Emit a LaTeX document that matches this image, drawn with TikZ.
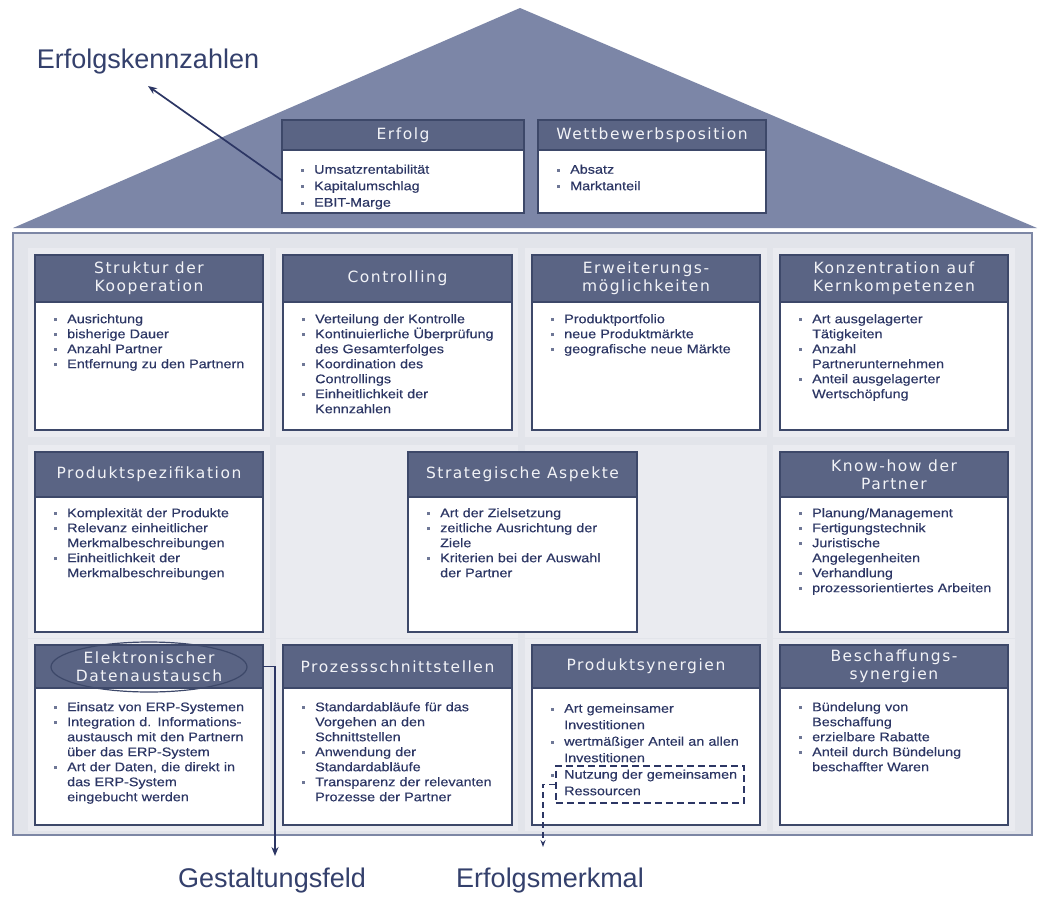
\documentclass[tikz,border=0pt]{standalone}
\usepackage{fontspec}
\setmainfont{Liberation Sans}
\newfontfamily\itemfont[FakeStretch=1.15,FakeBold=0.4]{Liberation Sans}
\newfontfamily\headfont[LetterSpace=10]{DejaVu Sans}
\newfontfamily\labelfont{Liberation Sans}
\usetikzlibrary{shapes.geometric,arrows.meta}
\definecolor{roof}{HTML}{7C86A7}
\definecolor{hdr}{HTML}{5A6484}
\definecolor{frame}{HTML}{3D4869}
\definecolor{txt}{HTML}{2C3664}
\definecolor{bul}{HTML}{6E7796}
\definecolor{bodybg}{HTML}{E2E4EA}
\definecolor{cellbg}{HTML}{EAEBF0}
\definecolor{hdrtxt}{HTML}{F2F3F7}
\definecolor{bodyframe}{HTML}{7D87A5}
\definecolor{lbl}{HTML}{34406C}
\newcommand\itm[1]{\par\hangindent=13pt\hangafter=1\noindent\makebox[13pt][l]{\textcolor{bul}{\rule[2pt]{3pt}{3pt}}}#1\par}
\tikzset{
  panelbox/.style={anchor=north west, draw=frame, line width=1.6pt, fill=white, inner sep=0pt, outer sep=0pt},
  headbox/.style={anchor=north west, draw=frame, line width=1.6pt, fill=hdr, text=hdrtxt,
    font=\headfont\fontsize{15.5}{18}\selectfont, align=center, inner sep=0pt, outer sep=0pt},
  itemtext/.style={anchor=north west, inner sep=0pt, text width=232pt, align=left, text=txt,
    font=\itemfont\fontsize{12.5}{15}\selectfont},
  biglabel/.style={font=\labelfont\fontsize{27}{30}\selectfont, text=lbl, inner sep=2pt},
  arrowline/.style={draw=txt, line width=1.7pt, -{Stealth[length=9pt,width=7pt]}},
  dasharrow/.style={draw=txt, line width=1.5pt, dash pattern=on 6pt off 4pt, -{Stealth[length=7pt,width=5pt]}},
  dashbox/.style={anchor=north west, draw=txt, line width=1.5pt, dash pattern=on 7pt off 4pt, inner sep=0pt},
  oval/.style={ellipse, draw=frame, line width=1.2pt, inner sep=0pt}
}
% #1 name, #2 x, #3 y, #4 width, #5 header height, #6 total height, #7 header, #8 items, #9 text yshift
\newcommand\panel[9]{%
  \node[panelbox, minimum width=#4pt, minimum height=#6pt] (#1) at (#2,#3) {};
  \node[headbox, minimum width=#4pt, minimum height=#5pt] (#1-h) at (#2,#3) {#7};
  \node[itemtext] (#1-t) at ([xshift=19pt,yshift=-#9pt]#1-h.south west) {#8};
}
\begin{document}
\begin{tikzpicture}[x=1pt,y=-1pt]
\fill[white] (0,0) rectangle (1039,897);
\useasboundingbox (0,0) rectangle (1039,897);
% roof
\fill[roof] (13,228) -- (520,8) -- (1037,228) -- cycle;
% house body
\draw[bodyframe, line width=2pt, fill=bodybg] (13,233) rectangle (1032,835);
% light cells
\foreach \cx in {28,276,525,773}{
  \foreach \cy/\ch in {248/189,445/193,639/192}{
    \fill[cellbg] (\cx,\cy) rectangle ++(242,\ch);
  }
}
% roof panels
\panel{erfolg}{282}{120}{242}{30}{93}{Erfolg}{\fontsize{12.5}{16.5}\selectfont
  \itm{Umsatzrentabilität}\itm{Kapitalumschlag}\itm{EBIT-Marge}}{7}
\panel{wett}{538}{120}{228}{30}{93}{Wettbewerbsposition}{\fontsize{12.5}{16.5}\selectfont
  \itm{Absatz}\itm{Marktanteil}}{7}
% row 1
\panel{struk}{35}{255}{228}{47}{175}{Struktur der\\Kooperation}{%
  \itm{Ausrichtung}\itm{bisherige Dauer}\itm{Anzahl Partner}\itm{Entfernung zu den Partnern}}{6}
\panel{contr}{283}{255}{229}{47}{175}{Controlling}{%
  \itm{Verteilung der Kontrolle}\itm{Kontinuierliche Überprüfung\newline des Gesamterfolges}%
  \itm{Koordination des\newline Controllings}\itm{Einheitlichkeit der\newline Kennzahlen}}{6}
\panel{erw}{532}{255}{228}{47}{175}{Erweiterungs-\\möglichkeiten}{%
  \itm{Produktportfolio}\itm{neue Produktmärkte}\itm{geografische neue Märkte}}{6}
\panel{konz}{780}{255}{228}{47}{175}{Konzentration auf\\Kernkompetenzen}{%
  \itm{Art ausgelagerter\newline Tätigkeiten}\itm{Anzahl\newline Partnerunternehmen}%
  \itm{Anteil ausgelagerter\newline Wertschöpfung}}{6}
% row 2
\panel{prodspez}{35}{452}{228}{45}{180}{Produktspezifikation}{%
  \itm{Komplexität der Produkte}\itm{Relevanz einheitlicher\newline Merkmalbeschreibungen}%
  \itm{Einheitlichkeit der\newline Merkmalbeschreibungen}}{5}
\panel{strat}{408}{452}{229}{45}{180}{Strategische Aspekte}{%
  \itm{Art der Zielsetzung}\itm{zeitliche Ausrichtung der\newline Ziele}%
  \itm{Kriterien bei der Auswahl\newline der Partner}}{5}
\panel{know}{780}{452}{228}{45}{180}{Know-how der\\Partner}{%
  \itm{Planung/Management}\itm{Fertigungstechnik}\itm{Juristische\newline Angelegenheiten}%
  \itm{Verhandlung}\itm{prozessorientiertes Arbeiten}}{5}
% row 3
\panel{edv}{35}{645}{228}{43}{180}{Elektronischer\\Datenaustausch}{%
  \itm{Einsatz von ERP-Systemen}\itm{Integration d. Informations-\newline austausch mit den Partnern\newline über das ERP-System}%
  \itm{Art der Daten, die direkt in\newline das ERP-System\newline eingebucht werden}}{8}
\panel{proz}{283}{645}{229}{43}{180}{Prozessschnittstellen}{%
  \itm{Standardabläufe für das\newline Vorgehen an den\newline Schnittstellen}%
  \itm{Anwendung der\newline Standardabläufe}\itm{Transparenz der relevanten\newline Prozesse der Partner}}{8}
\panel{syn}{532}{645}{228}{43}{180}{Produktsynergien}{\fontsize{12.5}{16.5}\selectfont
  \itm{Art gemeinsamer\newline Investitionen}\itm{wertmäßiger Anteil an allen\newline Investitionen}%
  \itm{Nutzung der gemeinsamen\newline Ressourcen}}{8}
\panel{besch}{780}{645}{228}{43}{180}{Beschaffungs-\\synergien}{%
  \itm{Bündelung von\newline Beschaffung}\itm{erzielbare Rabatte}%
  \itm{Anteil durch Bündelung\newline beschaffter Waren}}{8}
% highlight oval
\node[oval, minimum width=196pt, minimum height=50pt] (ell) at (149,667) {};
% labels
\node[biglabel] (kenn) at (148,62) {Erfolgskennzahlen};
\node[biglabel] (gest) at (272,881) {Gestaltungsfeld};
\node[biglabel] (merk) at (550,881) {Erfolgsmerkmal};
\coordinate (kennarr) at (148,86);
\coordinate (gestarr) at (275,856);
\coordinate (merkarr) at (543,847);
% dashed highlight
\node[dashbox, minimum width=188pt, minimum height=37pt] (nutz) at (555,765) {};
% connectors
\draw[arrowline] ([yshift=-14pt]erfolg.west) -- (kennarr);
\draw[arrowline] (edv-h.east) -| (gestarr);
\draw[dasharrow] (nutz.west) -| (merkarr);
\end{tikzpicture}
\end{document}
